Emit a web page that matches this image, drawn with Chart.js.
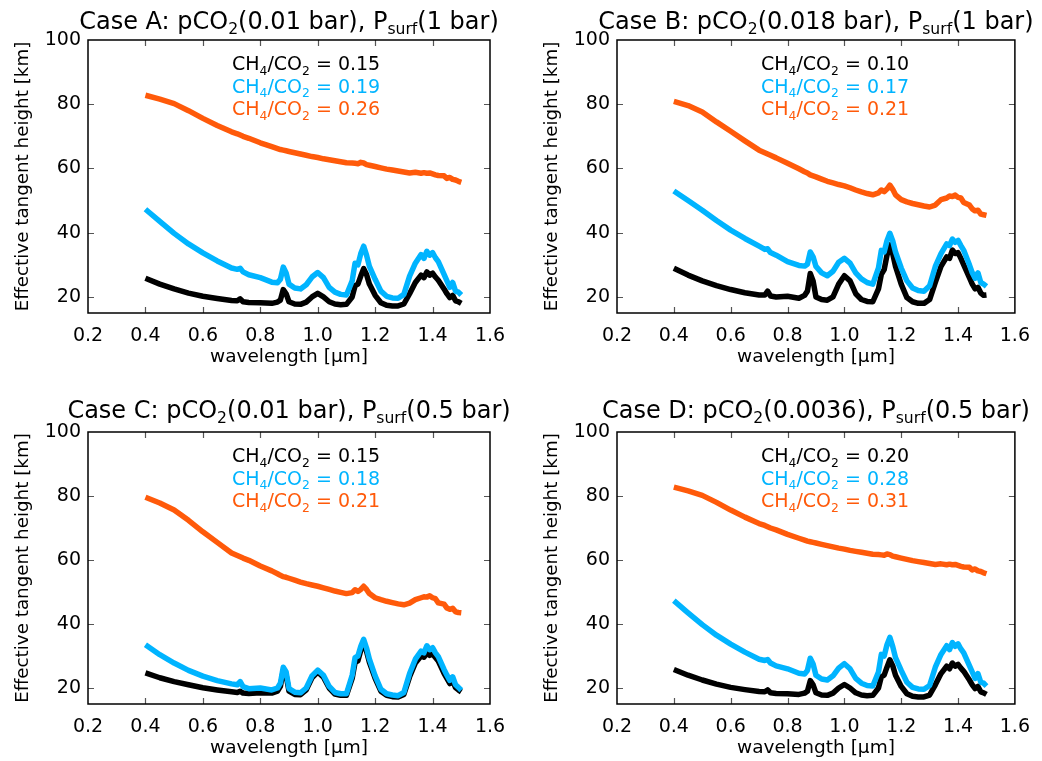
<!DOCTYPE html>
<html>
<head>
<meta charset="utf-8">
<script src="https://cdn.jsdelivr.net/npm/chart.js"></script>
<style>
  body { margin: 0; background: #fff; }
  #wrap { position: relative; width: 1042px; height: 761px; background: #fff; }
  canvas { position: absolute; }
</style>
<title>Effective tangent height</title>
</head>
<body>
<div id="wrap">
  <canvas id="cA" width="521" height="380" style="left:0;top:0"></canvas>
  <canvas id="cB" width="521" height="380" style="left:521px;top:0"></canvas>
  <canvas id="cC" width="521" height="381" style="left:0;top:380px"></canvas>
  <canvas id="cD" width="521" height="381" style="left:521px;top:380px"></canvas>
</div>
<script>
"use strict";

// wavelength grid [um], shared by all curves
const wavelength = [0.40,0.45,0.50,0.55,0.60,0.65,0.70,0.72,0.73,0.74,0.76,0.80,0.84,0.86,0.87,0.88,0.89,0.90,0.92,0.94,
  0.96,0.98,1.00,1.02,1.04,1.06,1.08,1.10,1.12,1.13,1.14,1.15,1.16,1.17,1.18,1.20,1.22,1.24,1.26,1.28,
  1.30,1.32,1.34,1.36,1.37,1.38,1.39,1.40,1.41,1.42,1.44,1.45,1.46,1.47,1.48,1.49,1.50];

const xTicks = [0.2,0.4,0.6,0.8,1.0,1.2,1.4,1.6];
const yTicks = [20,40,60,80,100];

// Case A
const caseA_orange = [82.8,81.6,80.2,78.0,75.6,73.4,71.4,70.8,70.4,70.0,69.4,68.0,66.8,66.2,65.9,65.7,65.5,65.3,64.9,64.5,
  64.1,63.7,63.4,63.0,62.7,62.4,62.1,61.8,61.7,61.6,61.5,61.9,61.7,61.2,61.0,60.6,60.2,59.8,59.5,59.2,
  58.9,58.6,58.8,58.5,58.7,58.5,58.6,58.3,58.0,57.8,57.7,56.9,57.2,56.6,56.4,56.0,55.7];
const caseA_blue = [47.3,43.5,39.8,36.5,33.7,31.2,29.0,28.6,28.9,27.8,26.9,26.0,24.6,24.4,25.5,29.3,27.5,24.0,22.8,22.5,
  23.8,26.2,27.6,26.0,23.0,21.5,20.8,20.6,25.0,30.5,30.0,33.5,35.8,33.0,29.5,25.5,21.8,20.2,19.7,19.6,
  20.8,26.5,30.5,33.2,32.0,34.2,33.0,33.8,32.2,31.0,27.0,25.0,23.0,24.5,21.8,21.5,20.6];
const caseA_black = [25.8,24.0,22.5,21.2,20.2,19.5,18.9,18.8,19.4,18.5,18.3,18.2,18.0,18.4,19.0,22.3,21.0,18.5,17.8,17.7,
  18.4,20.0,21.1,20.0,18.5,17.8,17.6,17.7,20.0,23.5,24.0,26.5,28.8,27.0,24.0,20.5,18.2,17.4,17.2,17.2,
  17.8,21.0,24.5,26.8,26.0,27.8,26.8,27.4,26.2,25.2,22.5,21.0,19.8,20.5,18.8,18.5,18.0];

// Case B
const caseB_orange = [80.9,79.6,77.6,74.5,71.6,68.6,65.7,64.9,64.5,64.1,63.3,61.6,59.9,59.0,58.6,58.0,57.7,57.4,56.7,56.0,
  55.5,55.0,54.6,54.0,53.3,52.7,52.2,51.8,52.4,53.3,52.8,53.6,54.8,53.5,51.8,50.3,49.6,49.1,48.7,48.3,
  48.0,48.6,50.3,50.8,51.4,51.3,51.7,51.0,50.8,49.4,48.6,47.4,46.8,47.0,45.8,45.6,45.4];
const caseB_blue = [53.0,50.0,47.0,43.8,40.8,38.2,35.8,34.8,35.0,33.8,33.0,31.0,29.8,29.6,30.2,34.0,32.5,29.5,27.5,26.6,
  28.0,30.8,32.0,30.5,27.5,25.6,24.5,24.0,29.0,34.5,34.0,37.5,39.8,37.5,34.0,29.0,25.0,22.8,22.0,21.8,
  23.5,29.5,33.5,36.5,36.0,38.0,37.0,37.6,36.0,34.5,30.0,27.5,25.8,27.5,24.5,24.0,23.3];
const caseB_black = [28.9,26.8,25.0,23.5,22.3,21.3,20.6,20.6,21.8,20.3,20.0,20.2,19.6,20.5,21.8,27.3,25.0,20.0,19.2,19.0,
  20.0,24.0,26.6,25.0,21.0,19.2,18.6,18.5,22.5,27.0,28.5,33.0,36.2,33.5,29.5,24.0,19.8,18.5,18.0,18.0,
  19.2,24.5,29.5,32.5,32.0,34.6,33.5,33.8,32.0,30.0,26.0,24.0,22.5,23.0,21.2,20.5,20.6];

// Case C
const caseC_orange = [79.6,77.8,75.6,72.4,68.8,65.5,62.2,61.4,61.0,60.6,59.9,58.1,56.6,55.7,55.2,54.8,54.6,54.3,53.7,53.1,
  52.6,52.2,51.8,51.3,50.8,50.3,49.9,49.5,49.8,50.7,50.2,50.8,51.8,50.8,49.5,48.2,47.6,47.1,46.7,46.3,
  46.0,46.5,47.6,48.2,48.5,48.4,48.8,48.2,47.9,46.6,46.2,45.0,44.6,44.9,43.8,43.6,43.5];
const caseC_blue = [33.5,30.4,27.8,25.5,23.7,22.3,21.3,21.0,22.0,20.4,19.8,20.0,19.4,20.0,21.5,26.5,25.0,19.8,18.7,18.5,
  20.0,23.8,25.6,24.0,20.5,18.6,18.2,18.2,24.0,29.5,30.0,33.0,35.2,32.5,29.0,23.8,19.6,18.2,17.8,17.6,
  18.6,24.5,29.0,31.5,31.0,33.2,32.0,32.6,31.0,29.8,25.8,24.0,22.4,23.5,21.0,20.2,19.3];
const caseC_black = [24.7,23.2,22.0,21.0,20.1,19.4,18.8,18.6,19.0,18.4,18.3,18.5,18.4,19.0,20.5,25.5,24.0,19.0,18.0,17.9,
  19.4,23.2,25.0,23.4,20.0,18.1,17.7,17.7,23.0,28.0,28.5,31.8,34.0,31.5,28.0,23.0,19.0,17.7,17.3,17.2,
  18.0,23.5,27.8,30.0,29.6,30.9,30.2,30.6,29.5,28.4,24.6,23.0,21.4,22.3,20.1,19.4,18.8];

// Case D
const caseD_orange = [82.8,81.6,80.2,78.0,75.6,73.4,71.4,70.8,70.4,70.0,69.4,68.0,66.8,66.2,65.9,65.7,65.5,65.3,64.9,64.5,
  64.1,63.7,63.4,63.0,62.7,62.4,62.1,61.8,61.7,61.6,61.5,61.9,61.7,61.2,61.0,60.6,60.2,59.8,59.5,59.2,
  58.9,58.6,58.8,58.5,58.7,58.5,58.6,58.3,58.0,57.8,57.7,56.9,57.2,56.6,56.4,56.0,55.7];
const caseD_blue = [47.3,43.5,39.8,36.5,33.7,31.2,29.0,28.6,28.9,27.8,26.9,26.0,24.6,24.4,25.5,29.3,27.5,24.0,22.8,22.5,
  23.8,26.2,27.6,26.0,23.0,21.5,20.8,20.6,25.0,30.5,30.0,33.5,35.8,33.0,29.5,25.5,21.8,20.2,19.7,19.6,
  20.8,26.5,30.5,33.2,32.0,34.2,33.0,33.8,32.2,31.0,27.0,25.0,23.0,24.5,21.8,21.5,20.6];
const caseD_black = [25.8,24.0,22.5,21.2,20.2,19.5,18.9,18.8,19.4,18.5,18.3,18.2,18.0,18.4,19.0,22.3,21.0,18.5,17.8,17.7,
  18.4,20.0,21.1,20.0,18.5,17.8,17.6,17.7,20.0,23.5,24.0,26.5,28.8,27.0,24.0,20.5,18.2,17.4,17.2,17.2,
  17.8,21.0,24.5,26.8,26.0,27.8,26.8,27.4,26.2,25.2,22.5,21.0,19.8,20.5,18.8,18.5,18.0];

// CH4/CO2 ratios, black / blue / orange
const ratioA = ["0.15","0.19","0.26"];
const ratioB = ["0.10","0.17","0.21"];
const ratioC = ["0.15","0.18","0.21"];
const ratioD = ["0.20","0.28","0.31"];

// titles: [text, isSubscript]
const titleA = [["Case A: pCO",0],["2",1],["(0.01 bar), P",0],["surf",1],["(1 bar)",0]];
const titleB = [["Case B: pCO",0],["2",1],["(0.018 bar), P",0],["surf",1],["(1 bar)",0]];
const titleC = [["Case C: pCO",0],["2",1],["(0.01 bar), P",0],["surf",1],["(0.5 bar)",0]];
const titleD = [["Case D: pCO",0],["2",1],["(0.0036), P",0],["surf",1],["(0.5 bar)",0]];

const BLACK = "#000000";
const BLUE = "#00b4ff";
const ORANGE = "#ff5a0a";
const FONT = "'DejaVu Sans', Arial, sans-serif";

function drawRich(ctx, parts, x, y, size, subOff, align) {
  let w = 0;
  for (const p of parts) {
    ctx.font = (p[1] ? size * 0.65 : size) + "px " + FONT;
    w += ctx.measureText(p[0]).width;
  }
  let cx = align === "center" ? x - w / 2 : x;
  ctx.textAlign = "left";
  ctx.textBaseline = "alphabetic";
  for (const p of parts) {
    ctx.font = (p[1] ? size * 0.65 : size) + "px " + FONT;
    ctx.fillText(p[0], cx, p[1] ? y + size * subOff : y);
    cx += ctx.measureText(p[0]).width;
  }
}

const decor = {
  id: "decor",
  afterDatasetsDraw(chart, args, opts) {
    const ctx = chart.ctx;
    const a = chart.chartArea;
    const xs = chart.scales.x, ys = chart.scales.y;
    ctx.save();
    // inner ticks on all four sides
    ctx.strokeStyle = "#555";
    ctx.lineWidth = 1.2;
    ctx.beginPath();
    xTicks.slice(1, -1).forEach(v => {
      const px = Math.round(xs.getPixelForValue(v)) + 0.5;
      ctx.moveTo(px, a.bottom); ctx.lineTo(px, a.bottom - 6);
      ctx.moveTo(px, a.top); ctx.lineTo(px, a.top + 6);
    });
    yTicks.slice(0, -1).forEach(v => {
      const py = Math.round(ys.getPixelForValue(v)) + 0.5;
      ctx.moveTo(a.left, py); ctx.lineTo(a.left + 6, py);
      ctx.moveTo(a.right, py); ctx.lineTo(a.right - 6, py);
    });
    ctx.stroke();
    // frame
    ctx.strokeStyle = "#000";
    ctx.lineWidth = 1.5;
    ctx.strokeRect(a.left, a.top, a.right - a.left, a.bottom - a.top);
    // title
    ctx.fillStyle = "#000";
    drawRich(ctx, opts.title, (a.left + a.right) / 2, a.top - opts.titleGap, 24, 0.22, "center");
    // ratio labels
    const cols = [BLACK, BLUE, ORANGE];
    opts.ratios.forEach((r, i) => {
      ctx.fillStyle = cols[i];
      drawRich(ctx, [["CH",0],["4",1],["/CO",0],["2",1],[" = " + r,0]],
        a.left + 144, a.top + 30 + i * 22.5, 19, 0.24, "left");
    });
    ctx.restore();
  }
};

function pts(vals) {
  return wavelength.map((w, i) => ({ x: w, y: vals[i] }));
}

function makePanel(id, title, ratios, black, blue, orange, box, titleGap) {
  const W = 521, H = document.getElementById(id).height;
  const yW = 74, xH = 53;
  const ds = (vals, col) => ({
    data: pts(vals), borderColor: col, backgroundColor: col, borderWidth: 5.5,
    pointRadius: 0, tension: 0, borderJoinStyle: "round", fill: false
  });
  new Chart(document.getElementById(id), {
    type: "line",
    data: { datasets: [ds(blue, BLUE), ds(black, BLACK), ds(orange, ORANGE)] },
    options: {
      responsive: false,
      animation: false,
      devicePixelRatio: 1,
      layout: { padding: { left: box.left - yW, right: W - box.right, top: box.top, bottom: H - box.bottom - xH } },
      plugins: {
        legend: { display: false },
        tooltip: { enabled: false },
        decor: { title: title, ratios: ratios, titleGap: titleGap }
      },
      scales: {
        x: {
          type: "linear", min: 0.2, max: 1.6,
          afterFit: s => { s.height = xH; },
          afterBuildTicks: s => { s.ticks = xTicks.map(v => ({ value: v })); },
          grid: { display: false, drawTicks: false },
          border: { display: false },
          ticks: { color: "#000", padding: 12, font: { family: FONT, size: 19 }, maxRotation: 0,
                   callback: v => v.toFixed(1) },
          title: { display: true, text: "wavelength [\u03bcm]", color: "#000", padding: 0,
                   font: { family: FONT, size: 18.5, lineHeight: 1 } }
        },
        y: {
          type: "linear", min: 15, max: 100,
          afterFit: s => { s.width = yW; },
          afterBuildTicks: s => { s.ticks = yTicks.map(v => ({ value: v })); },
          grid: { display: false, drawTicks: false },
          border: { display: false },
          ticks: { color: "#000", padding: 7, font: { family: FONT, size: 19 } },
          title: { display: true, text: "Effective tangent height [km]", color: "#000", padding: 0,
                   font: { family: FONT, size: 18.3, lineHeight: 1 } }
        }
      }
    },
    plugins: [decor]
  });
}

makePanel("cA", titleA, ratioA, caseA_black, caseA_blue, caseA_orange, { left: 88, right: 490, top: 40, bottom: 313 }, 11);
makePanel("cB", titleB, ratioB, caseB_black, caseB_blue, caseB_orange, { left: 96, right: 498, top: 40, bottom: 313 }, 11);
makePanel("cC", titleC, ratioC, caseC_black, caseC_blue, caseC_orange, { left: 88, right: 490, top: 52, bottom: 324 }, 14);
makePanel("cD", titleD, ratioD, caseD_black, caseD_blue, caseD_orange, { left: 96, right: 498, top: 52, bottom: 324 }, 14);
</script>
</body>
</html>
